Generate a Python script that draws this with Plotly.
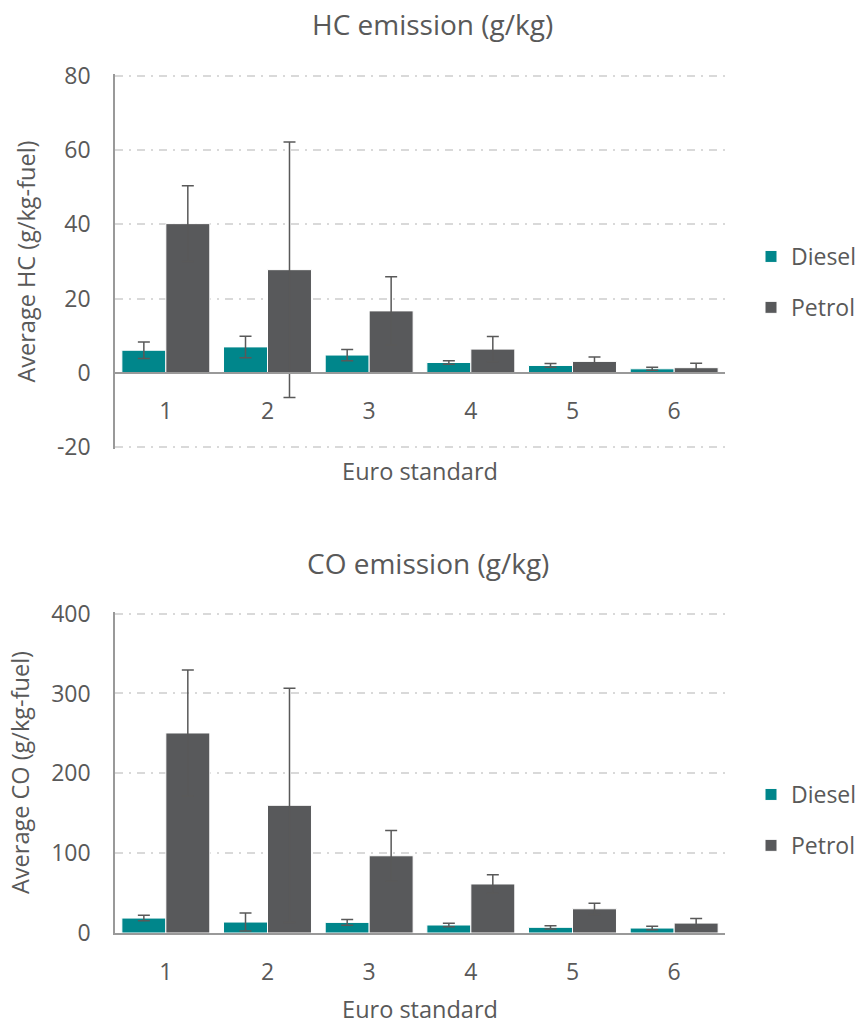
import plotly.graph_objects as go

# Euro emission standards on the x axis
euro_standards = ["1", "2", "3", "4", "5", "6"]

# HC emission factors (g/kg-fuel): means and standard deviations
hc_diesel = [6.1, 7.0, 4.8, 2.8, 2.0, 1.1]
hc_diesel_sd = [2.2, 2.9, 1.5, 0.5, 0.5, 0.4]
hc_petrol = [40.2, 27.8, 16.7, 6.4, 3.1, 1.4]
hc_petrol_sd = [10.2, 34.4, 9.2, 3.4, 1.2, 1.2]

# CO emission factors (g/kg-fuel): means and standard deviations
co_diesel = [18.7, 13.7, 13.3, 10.0, 7.1, 6.2]
co_diesel_sd = [3.5, 11.3, 3.5, 2.3, 2.0, 2.2]
co_petrol = [250.5, 159.9, 96.7, 61.4, 30.3, 12.4]
co_petrol_sd = [78.8, 146.6, 31.8, 11.6, 7.0, 5.8]

hc_ticks = [-20, 0, 20, 40, 60, 80]
co_ticks = [0, 100, 200, 300, 400]

FONT = "Open Sans"
TEXT = "#595959"
DIESEL = "#00868B"
PETROL = "#58595B"
GRID = "#D9D9D9"
AXIS = "#999999"
W, H = 859, 1025


def px_x(p):
    return p / W


def px_y(p):
    return 1 - p / H


def bar(name, x, y, sd, color, xa, ya, legend):
    return go.Bar(
        name=name, x=x, y=y,
        marker=dict(color=color, line=dict(color="#FFFFFF", width=1)),
        error_y=dict(type="data", array=sd, visible=True, color=TEXT,
                     thickness=1.5, width=6),
        xaxis=xa, yaxis=ya, legend=legend, legendgroup=legend + name,
    )


fig = go.Figure()
fig.add_trace(bar("Diesel", euro_standards, hc_diesel, hc_diesel_sd, DIESEL, "x", "y", "legend"))
fig.add_trace(bar("Petrol", euro_standards, hc_petrol, hc_petrol_sd, PETROL, "x", "y", "legend"))
fig.add_trace(bar("Diesel", euro_standards, co_diesel, co_diesel_sd, DIESEL, "x2", "y2", "legend2"))
fig.add_trace(bar("Petrol", euro_standards, co_petrol, co_petrol_sd, PETROL, "x2", "y2", "legend2"))

x_dom = [px_x(115), px_x(725)]
top_dom = [px_y(449), px_y(74)]
bot_dom = [px_y(933), px_y(612)]

# a hair of padding so the gridlines at the range ends are still drawn
hc_range = [hc_ticks[0] - 0.5, hc_ticks[-1] + 0.5]
co_range = [co_ticks[0], co_ticks[-1] + 2]

# x axis line of the HC chart sits at y = 0
zero_frac = (0 - hc_range[0]) / (hc_range[1] - hc_range[0])
zero_pos = top_dom[0] + zero_frac * (top_dom[1] - top_dom[0])

tick_font = dict(family=FONT, size=23, color=TEXT)
title_font = dict(family=FONT, size=23.5, color=TEXT)

common_y = dict(
    showgrid=True, gridcolor=GRID, gridwidth=1.5, griddash="8px,6px,2px,6px",
    showline=True, linecolor=AXIS, linewidth=1.5, zeroline=False,
    ticks="", ticklabelstandoff=18, tickfont=tick_font, automargin=False,
)
common_x = dict(
    type="category", showgrid=False, showline=True, linecolor=AXIS,
    linewidth=1.5, ticks="", tickfont=tick_font, automargin=False,
    ticklabelstandoff=18, zeroline=False,
)

fig.update_layout(
    width=W, height=H,
    margin=dict(l=0, r=0, t=0, b=0, autoexpand=False),
    paper_bgcolor="white", plot_bgcolor="white",
    barmode="group", bargap=0.135, bargroupgap=0,
    font=dict(family=FONT, color=TEXT),
    xaxis=dict(common_x, domain=x_dom, anchor="free", position=zero_pos,
               title=dict(text="Euro standard", font=title_font, standoff=37)),
    yaxis=dict(common_y, domain=top_dom, anchor="x", range=hc_range,
               tickvals=hc_ticks, ticktext=[str(v) for v in hc_ticks],
               title=dict(text="Average HC (g/kg-fuel)", font=title_font, standoff=15)),
    xaxis2=dict(common_x, domain=x_dom, anchor="y2",
                title=dict(text="Euro standard", font=title_font, standoff=20)),
    yaxis2=dict(common_y, domain=bot_dom, anchor="x2", range=co_range,
                tickvals=co_ticks, ticktext=[str(v) for v in co_ticks],
                title=dict(text="Average CO (g/kg-fuel)", font=title_font, standoff=15)),
    legend=dict(x=px_x(751), y=px_y(282), xanchor="left", yanchor="middle",
                font=dict(family=FONT, size=23, color=TEXT),
                tracegroupgap=18, bgcolor="rgba(0,0,0,0)"),
    legend2=dict(x=px_x(751), y=px_y(820), xanchor="left", yanchor="middle",
                 font=dict(family=FONT, size=23, color=TEXT),
                 tracegroupgap=18, bgcolor="rgba(0,0,0,0)"),
    annotations=[
        dict(text="HC emission (g/kg)", x=px_x(432), y=px_y(24), xref="paper",
             yref="paper", showarrow=False, xanchor="center", yanchor="middle",
             font=dict(family=FONT, size=28, color=TEXT)),
        dict(text="CO emission (g/kg)", x=px_x(428), y=px_y(563), xref="paper",
             yref="paper", showarrow=False, xanchor="center", yanchor="middle",
             font=dict(family=FONT, size=28, color=TEXT)),
    ],
)

fig.write_html("out.html")
